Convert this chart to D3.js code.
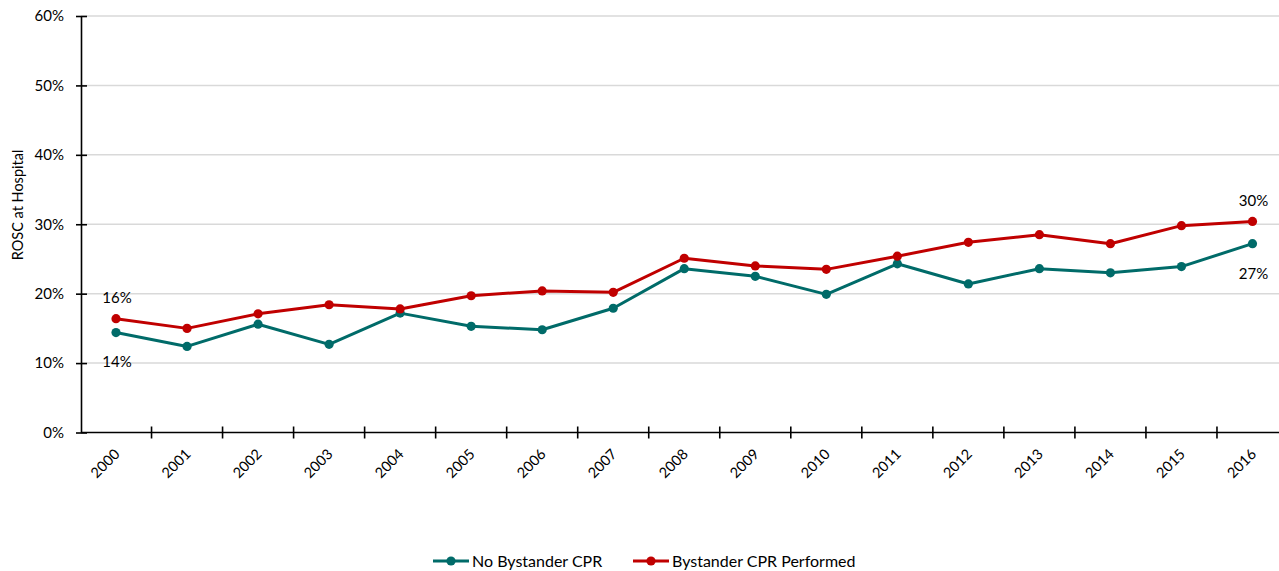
<!DOCTYPE html>
<html>
<head>
<meta charset="utf-8">
<script src="https://cdn.jsdelivr.net/npm/d3@7"></script>
<style>
  html, body { margin: 0; padding: 0; background: #fff; }
  svg { display: block; font-family: Lato, "Noto Sans", sans-serif; }
</style>
</head>
<body>
<svg id="chart" width="1279" height="571"></svg>
<script>
// Years on the category axis
const years = ["2000","2001","2002","2003","2004","2005","2006","2007","2008",
               "2009","2010","2011","2012","2013","2014","2015","2016"];

// ROSC at hospital, percent
const noBystander = [14.4, 12.4, 15.6, 12.7, 17.2, 15.3, 14.8, 17.9, 23.6,
                     22.5, 19.9, 24.3, 21.4, 23.6, 23.0, 23.9, 27.2];
const bystander   = [16.4, 15.0, 17.1, 18.4, 17.8, 19.7, 20.4, 20.2, 25.1,
                     24.0, 23.5, 25.4, 27.4, 28.5, 27.2, 29.8, 30.4];

const yTicks = [0, 10, 20, 30, 40, 50, 60];

const seriesNames = ["No Bystander CPR", "Bystander CPR Performed"];
const seriesColors = ["#006b69", "#c00000"];

const svg = d3.select("#chart");

const x = d3.scaleBand().domain(years).range([80.5, 1288]);
const y = d3.scaleLinear().domain([0, 60]).range([432.5, 16]);

// Horizontal gridlines
svg.append("g")
  .selectAll("line")
  .data(yTicks.filter(d => d > 0))
  .join("line")
  .attr("x1", 81).attr("x2", 1290)
  .attr("y1", d => y(d)).attr("y2", d => y(d))
  .attr("stroke", "#d9d9d9").attr("stroke-width", 1.5);

// Y axis with ticks crossing the line
const yAxis = svg.append("g")
  .attr("transform", "translate(81,0)")
  .call(d3.axisLeft(y).tickValues(yTicks).tickFormat(d => d + "%")
        .tickSizeInner(6).tickSizeOuter(0).tickPadding(8));
yAxis.select(".domain").attr("stroke", "#000").attr("stroke-width", 1.6);
yAxis.selectAll(".tick line").attr("x2", 6).attr("x1", -5)
  .attr("stroke", "#000").attr("stroke-width", 1.6);
yAxis.selectAll(".tick text").attr("x", -17)
  .style("font-size", "15px").attr("fill", "#000")
  .style("font-family", "Lato, 'Noto Sans', sans-serif");

// X axis: ticks at category boundaries, labels at category centres
const xg = svg.append("g").attr("transform", `translate(0,${y(0)})`);
xg.append("line").attr("x1", 81).attr("x2", 1290)
  .attr("stroke", "#000").attr("stroke-width", 1.6);
xg.selectAll("line.tk")
  .data(years)
  .join("line").attr("class", "tk")
  .attr("x1", d => x(d) + x.bandwidth())
  .attr("x2", d => x(d) + x.bandwidth())
  .attr("y1", -6).attr("y2", 6)
  .attr("stroke", "#000").attr("stroke-width", 1.6);
xg.selectAll("text")
  .data(years)
  .join("text")
  .attr("transform", d => `translate(${x(d) + x.bandwidth() / 2 + 1},${19}) rotate(-45)`)
  .attr("text-anchor", "end")
  .attr("dy", "0.35em")
  .style("font-size", "14.5px")
  .text(d => d);

// Y axis title
svg.append("text")
  .attr("transform", "translate(23,205) rotate(-90)")
  .attr("text-anchor", "middle")
  .style("font-size", "14.5px")
  .text("ROSC at Hospital");

const cx = d => x(d) + x.bandwidth() / 2;

const line = d3.line()
  .x((d, i) => cx(years[i]))
  .y(d => y(d));

[noBystander, bystander].forEach((vals, s) => {
  svg.append("path")
    .datum(vals)
    .attr("d", line)
    .attr("fill", "none")
    .attr("stroke", seriesColors[s])
    .attr("stroke-width", 3)
    .attr("stroke-linejoin", "round");
  svg.append("g")
    .selectAll("circle")
    .data(vals)
    .join("circle")
    .attr("cx", (d, i) => cx(years[i]))
    .attr("cy", d => y(d))
    .attr("r", 4.6)
    .attr("fill", seriesColors[s]);
});

// End-point value labels
const fmt = v => Math.round(v) + "%";
const last = years.length - 1;
const endLabels = [
  { i: 0, v: bystander[0], dy: -21 },
  { i: 0, v: noBystander[0], dy: 29 },
  { i: last, v: bystander[last], dy: -21 },
  { i: last, v: noBystander[last], dy: 30 }
];
svg.append("g")
  .selectAll("text")
  .data(endLabels)
  .join("text")
  .attr("x", d => cx(years[d.i]) + 1)
  .attr("y", d => y(d.v) + d.dy)
  .attr("text-anchor", "middle")
  .attr("dy", "0.35em")
  .style("font-size", "15px")
  .text(d => fmt(d.v));

// Legend
const legend = svg.append("g");
const legendX = [433, 633];
seriesNames.forEach((name, s) => {
  const g = legend.append("g").attr("transform", `translate(${legendX[s]},561)`);
  g.append("line").attr("x1", 0).attr("x2", 36)
    .attr("stroke", seriesColors[s]).attr("stroke-width", 3);
  g.append("circle").attr("cx", 18).attr("cy", 0).attr("r", 4.6).attr("fill", seriesColors[s]);
  g.append("text").attr("x", 39).attr("dy", "0.35em")
    .style("font-size", "16px").text(name);
});
</script>
</body>
</html>
